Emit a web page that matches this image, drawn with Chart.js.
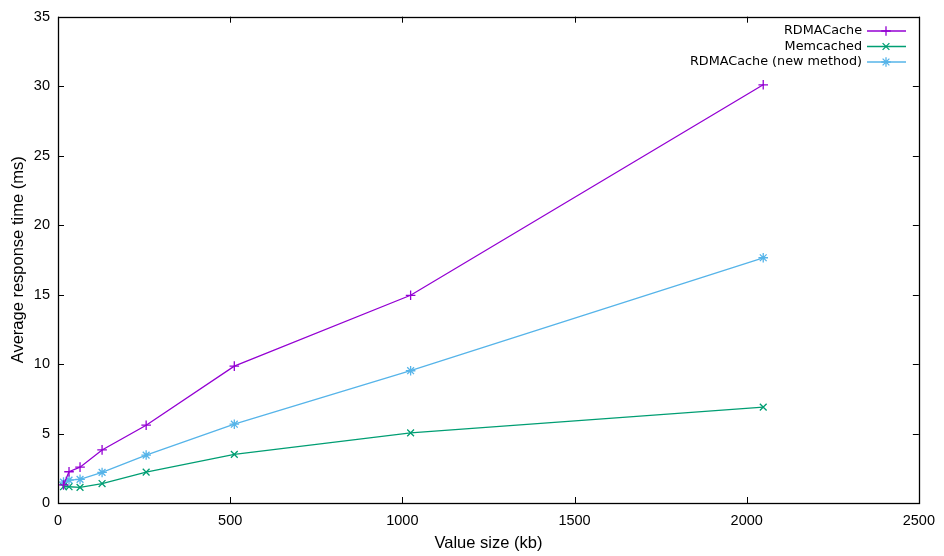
<!DOCTYPE html>
<html>
<head>
<meta charset="utf-8">
<script src="https://cdn.jsdelivr.net/npm/chart.js@4/dist/chart.umd.min.js"></script>
<style>
  html, body { margin: 0; padding: 0; background: #fff; }
  #wrap { width: 944px; height: 556px; }
</style>
</head>
<body>
<div id="wrap"><canvas id="chart"></canvas></div>
<script>
// value sizes (kb)
const sizes = [16, 32, 64, 128, 256, 512, 1024, 2048];
const rdmaCache = [1.3, 2.25, 2.58, 3.82, 5.6, 9.85, 14.95, 30.1];
const memcached = [1.17, 1.17, 1.12, 1.4, 2.22, 3.5, 5.05, 6.9];
const rdmaCacheNew = [1.5, 1.65, 1.7, 2.2, 3.45, 5.67, 9.52, 17.65];

const seriesNames = ['RDMACache', 'Memcached', 'RDMACache (new method)'];
const seriesColors = ['#9400d3', '#009e73', '#56b4e9'];
const seriesMarks = ['cross', 'crossRot', 'star'];

function toPoints(values) {
    return sizes.map((s, i) => ({ x: s, y: values[i] }));
}

function makeDataset(i, values) {
    return {
        label: seriesNames[i],
        data: toPoints(values),
        borderColor: seriesColors[i],
        backgroundColor: seriesColors[i],
        borderWidth: 1.3,
        pointStyle: seriesMarks[i],
        pointRadius: 4.8,
        pointBorderWidth: 1.3,
        pointHoverRadius: 4.8,
        tension: 0
    };
}

// gnuplot-like frame: border, inward ticks on all four sides, key at top right
const gnuplotFrame = {
    id: 'gnuplotFrame',
    afterDatasetsDraw(chart) {
        const ctx = chart.ctx;
        const a = chart.chartArea;
        const xs = chart.scales.x;
        const ys = chart.scales.y;
        ctx.save();
        ctx.strokeStyle = '#000';
        ctx.lineWidth = 1;
        ctx.beginPath();
        xs.ticks.forEach(t => {
            const px = Math.round(xs.getPixelForValue(t.value)) + 0.5;
            ctx.moveTo(px, a.bottom); ctx.lineTo(px, a.bottom - 6);
            ctx.moveTo(px, a.top); ctx.lineTo(px, a.top + 6);
        });
        ys.ticks.forEach(t => {
            const py = Math.round(ys.getPixelForValue(t.value)) + 0.5;
            ctx.moveTo(a.left, py); ctx.lineTo(a.left + 6, py);
            ctx.moveTo(a.right, py); ctx.lineTo(a.right - 6, py);
        });
        ctx.stroke();
        ctx.lineWidth = 1.3;
        ctx.strokeRect(Math.round(a.left) + 0.5, Math.round(a.top) + 0.5,
            Math.round(a.right - a.left), Math.round(a.bottom - a.top));

        // key
        ctx.font = '12.8px "DejaVu Sans"';
        ctx.textAlign = 'right';
        ctx.textBaseline = 'middle';
        const rowY = [31, 46.5, 62];
        chart.data.datasets.forEach((ds, i) => {
            const y = rowY[i];
            ctx.fillStyle = '#000';
            ctx.fillText(ds.label, 862, y);
            ctx.strokeStyle = ds.borderColor;
            ctx.lineWidth = 1.3;
            ctx.beginPath();
            ctx.moveTo(867, y); ctx.lineTo(906, y);
            ctx.stroke();
            Chart.helpers.drawPoint(ctx, {
                pointStyle: ds.pointStyle, radius: 4.8, rotation: 0, borderWidth: 1.3
            }, 886, y);
        });
        ctx.restore();
    }
};

const ctx = document.getElementById('chart').getContext('2d');
new Chart(ctx, {
    type: 'line',
    data: {
        datasets: [
            makeDataset(0, rdmaCache),
            makeDataset(1, memcached),
            makeDataset(2, rdmaCacheNew)
        ]
    },
    options: {
        responsive: true,
        maintainAspectRatio: false,
        animation: false,
        layout: { padding: { top: 15, right: 24, left: 0, bottom: 0 } },
        plugins: {
            legend: { display: false },
            tooltip: { enabled: false }
        },
        scales: {
            x: {
                type: 'linear',
                min: 0,
                max: 2500,
                afterFit(scale) { scale.height = 53; },
                grid: { display: false, drawTicks: false },
                border: { display: false },
                ticks: {
                    stepSize: 500,
                    padding: 9,
                    color: '#000',
                    font: { family: '"Liberation Sans"', size: 14.5 },
                    maxRotation: 0,
                    callback: v => String(v)
                },
                title: {
                    display: true,
                    text: 'Value size (kb)',
                    color: '#000',
                    font: { family: '"Liberation Sans"', size: 16.5 },
                    padding: { top: 0, bottom: 3 }
                }
            },
            y: {
                min: 0,
                max: 35,
                afterFit(scale) { scale.width = 58; },
                grid: { display: false, drawTicks: false },
                border: { display: false },
                ticks: {
                    stepSize: 5,
                    padding: 8,
                    color: '#000',
                    font: { family: '"Liberation Sans"', size: 14.5 },
                    callback: v => String(v)
                },
                title: {
                    display: true,
                    text: 'Average response time (ms)',
                    color: '#000',
                    font: { family: '"Liberation Sans"', size: 16.5 },
                    padding: { top: 8.6, bottom: 0 }
                }
            }
        }
    },
    plugins: [gnuplotFrame]
});
</script>
</body>
</html>
